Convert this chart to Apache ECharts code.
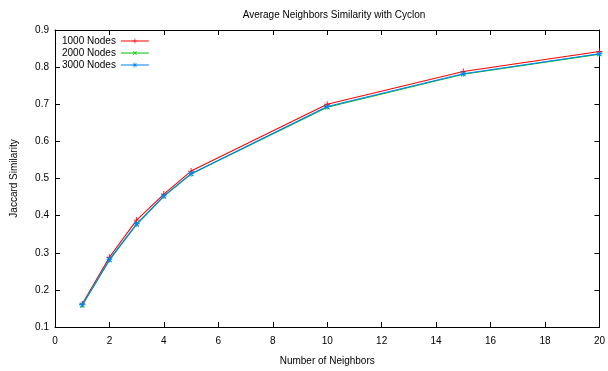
<!DOCTYPE html>
<html><head><meta charset="utf-8">
<script src="https://cdn.jsdelivr.net/npm/echarts@6/dist/echarts.min.js"></script>
<style>html,body{margin:0;padding:0;background:#fff}#c{width:608px;height:371px}</style>
</head><body><div id="c"></div>
<script>
const neighbors = [1, 2, 3, 4, 5, 10, 15, 20];
const nodes1000 = [0.162, 0.288, 0.388, 0.458, 0.520, 0.700, 0.788, 0.842];
const nodes2000 = [0.158, 0.280, 0.376, 0.452, 0.512, 0.692, 0.781, 0.835];
const nodes3000 = [0.160, 0.282, 0.378, 0.453, 0.513, 0.694, 0.782, 0.836];
const seriesNames = ['1000 Nodes', '2000 Nodes', '3000 Nodes'];
const xTicks = [0, 2, 4, 6, 8, 10, 12, 14, 16, 18, 20];
const yTicks = [0.1, 0.2, 0.3, 0.4, 0.5, 0.6, 0.7, 0.8, 0.9];

const FONT = 'Liberation Sans, Arial, sans-serif';
const plusPath = 'path://M-0.7,-5H0.7V5H-0.7Z M-5,-0.7H5V0.7H-5Z';
const starPath = 'path://M-0.7,-5H0.7V5H-0.7Z M-5,-0.7H5V0.7H-5Z M-4.3,-3.6L-3.6,-4.3L4.3,3.6L3.6,4.3Z M-4.3,3.6L3.6,-4.3L4.3,-3.6L-3.6,4.3Z';

function pairs(v){ return neighbors.map((x,i)=>[x, v[i]]); }

const chart = echarts.init(document.getElementById('c'), null, {renderer:'canvas'});
const axisCommon = {
  axisLine:{show:true, onZero:false, lineStyle:{color:'#000', width:1}},
  axisTick:{show:true, inside:true, length:5, lineStyle:{color:'#000', width:1}},
  splitLine:{show:false}
};
chart.setOption({
  animation:false,
  backgroundColor:'#fff',
  title:{text:'Average Neighbors Similarity with Cyclon', left:329, textAlign:'center', top:5,
    textStyle:{fontFamily:FONT, fontSize:10, fontWeight:'normal', color:'#000'}},
  legend:{data:seriesNames, orient:'vertical', align:'right', left:62, top:35, padding:0,
    itemWidth:28, itemHeight:6, itemGap:0,
    lineStyle:{width:1},
    textStyle:{fontFamily:FONT, fontSize:10, color:'#000', lineHeight:12}},
  grid:{left:55, right:6, top:30, bottom:44},
  xAxis:[
    Object.assign({type:'value', min:0, max:20, interval:2, position:'bottom',
      name:'Number of Neighbors', nameLocation:'middle', nameGap:29,
      nameTextStyle:{fontFamily:FONT, fontSize:10, color:'#000'},
      axisLabel:{fontFamily:FONT, fontSize:10, color:'#000', margin:9,
        formatter:v=>xTicks.includes(v)?String(v):''}}, axisCommon),
    Object.assign({type:'value', min:0, max:20, interval:2, position:'top',
      axisLabel:{show:false}}, axisCommon)
  ],
  yAxis:[
    Object.assign({type:'value', min:0.1, max:0.9, interval:0.1, position:'left',
      name:'Jaccard Similarity', nameLocation:'middle', nameGap:36,
      nameTextStyle:{fontFamily:FONT, fontSize:10, color:'#000'},
      axisLabel:{fontFamily:FONT, fontSize:10, color:'#000', margin:6,
        formatter:v=>{const t=yTicks.find(y=>Math.abs(y-v)<1e-9);return t===undefined?'':t.toFixed(1);}}}, axisCommon),
    Object.assign({type:'value', min:0.1, max:0.9, interval:0.1, position:'right',
      axisLabel:{show:false}}, axisCommon)
  ],
  series:[
    {name:seriesNames[0], type:'line', data:pairs(nodes1000), symbol:plusPath, symbolSize:6,
      lineStyle:{color:'#ff0000', width:1.1}, itemStyle:{color:'#ff0000'}, z:2},
    {name:seriesNames[1], type:'line', data:pairs(nodes2000), symbol:plusPath, symbolRotate:45, symbolSize:6,
      lineStyle:{color:'#00c000', width:1.1}, itemStyle:{color:'#00c000'}, z:3},
    {name:seriesNames[2], type:'line', data:pairs(nodes3000), symbol:starPath, symbolSize:6,
      lineStyle:{color:'#0080ff', width:1.1}, itemStyle:{color:'#0080ff'}, z:4}
  ]
});
</script></body></html>
